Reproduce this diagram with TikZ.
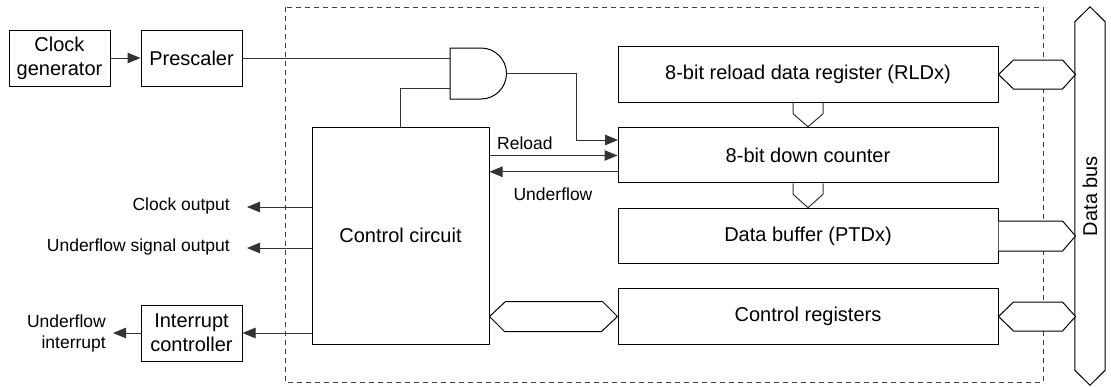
\documentclass[tikz,border=0pt]{standalone}
\usepackage{fontspec}
\setmainfont{Liberation Sans}
\usetikzlibrary{arrows.meta,calc}
\tikzset{
  blk/.style={draw, line width=1pt, minimum width=101pt, minimum height=56pt, align=center,
    font=\fontsize{20}{24}\selectfont, inner sep=0pt},
  reg/.style={draw, line width=1pt, minimum width=380pt, minimum height=55.5pt,
    font=\fontsize{20}{24}\selectfont, inner sep=0pt},
  lbl/.style={font=\fontsize{17.5}{21}\selectfont, inner sep=0pt},
  conn/.style={line width=1pt, draw=black!80},
  arr/.style={conn, -{Triangle[length=13pt,width=10.5pt]}},
  busseg/.style={line width=1pt, fill=white, line join=miter},
  frame/.style={draw=black!75, line width=0.9pt, dash pattern=on 5pt off 4pt},
}
\begin{document}
\begin{tikzpicture}[x=1pt,y=-1pt]
\useasboundingbox (0,0) rectangle (1111,386);
% dashed module frame
\draw[frame] (285,7) rectangle (1043,382);

% blocks
\node[blk] (clk) at (59.5,58) {Clock\\generator};
\node[blk] (pre) at (191.5,58) {Prescaler};
\node[blk] (intc) at (191.5,333) {Interrupt\\controller};
\node[blk, minimum width=177pt, minimum height=217pt] (ctl) at (400.5,235.5) {Control circuit};
\node[reg] (rld) at (808,74.5) {8-bit reload data register (RLDx)};
\node[reg] (cnt) at (808,155) {8-bit down counter};
\node[reg] (buf) at (808,236) {Data buffer (PTDx)};
\node[reg] (creg) at (808,316.5) {Control registers};

% data bus
\node[minimum width=30pt, minimum height=378pt, inner sep=0pt] (bus) at (1090,196) {};
\draw[line width=1pt, line join=miter] (bus.north) -- ($(bus.north east)+(0,15)$) -- ($(bus.south east)+(0,-15)$)
  -- (bus.south) -- ($(bus.south west)+(0,-15)$) -- ($(bus.north west)+(0,15)$) -- cycle;
\node[font=\fontsize{20}{24}\selectfont, rotate=90, inner sep=0pt] (buslbl) at (bus.center) {Data bus};

% AND gate
\draw[line width=1pt, fill=white] (450,48) -- (481,48) arc[start angle=90, end angle=-90, radius=25.5pt] -- (450,99) -- cycle;
\coordinate (andin1) at (450,58);
\coordinate (andin2) at (450,88);
\coordinate (andout) at (506.5,73.5);
\coordinate (bend) at (576,73.5);
\coordinate (cntin) at (618,140);

% connectors
\draw[arr] (clk.east) -- (pre.west);
\draw[conn] (pre.east) -- (andin1);
\draw[conn] (andin2) -| (ctl.north);
\draw[arr] (andout) -- (bend) |- (cntin);

\path (ctl.north east) ++(0,29) coordinate (r1);
\draw[arr] (r1) -- (r1 -| cnt.west);
\node[lbl, anchor=west] (reloadlbl) at (497,143) {Reload};
\path (cnt.north west) ++(0,45) coordinate (u1);
\draw[arr] (u1) -- (u1 -| ctl.east);
\node[lbl] (uflbl) at (553,194) {Underflow};

% left outputs
\node[lbl, anchor=east] (colbl) at (230,206) {Clock output};
\node[lbl, anchor=east] (uslbl) at (230,247) {Underflow signal output};
\node[lbl, anchor=east, align=right] (uilbl) at (106,333) {Underflow\\interrupt};
\draw[arr] (colbl.east -| ctl.west) ++(0,1) -- ($(colbl.east)+(17,1)$);
\draw[arr] (uslbl.east -| ctl.west) ++(0,1) -- ($(uslbl.east)+(17,1)$);
\draw[arr] (intc.east -| ctl.west) -- (intc.east);
\draw[arr] (intc.west) -- ($(uilbl.east)+(7,0)$);

% internal data paths
\draw[conn] ($(rld.south)+(-15,0)$) -- ++(0,11) -- (cnt.north) -- ($(rld.south)+(15,11)$) -- ++(0,-11);
\draw[conn] ($(cnt.south)+(-15,0)$) -- ++(0,11) -- (buf.north) -- ($(cnt.south)+(15,11)$) -- ++(0,-11);

% bus links
\draw[busseg] (rld.east) -- ++(15,-14.5) -- ++(49,0) -- ++(13,14.5) -- ++(-13,14.5) -- ++(-49,0) -- cycle;
\draw[busseg] ($(buf.east)+(0,-15)$) -- ++(64,0) -- ++(13,15) -- ++(-13,15) -- ++(-64,0);
\draw[busseg] (creg.east) -- ++(15,-14.5) -- ++(49,0) -- ++(13,14.5) -- ++(-13,14.5) -- ++(-49,0) -- cycle;
\draw[busseg] (creg.west -| ctl.east) -- ++(16,-15) -- ++(97,0) -- (creg.west) -- ++(-16,15) -- ++(-97,0) -- cycle;
\end{tikzpicture}
\end{document}
